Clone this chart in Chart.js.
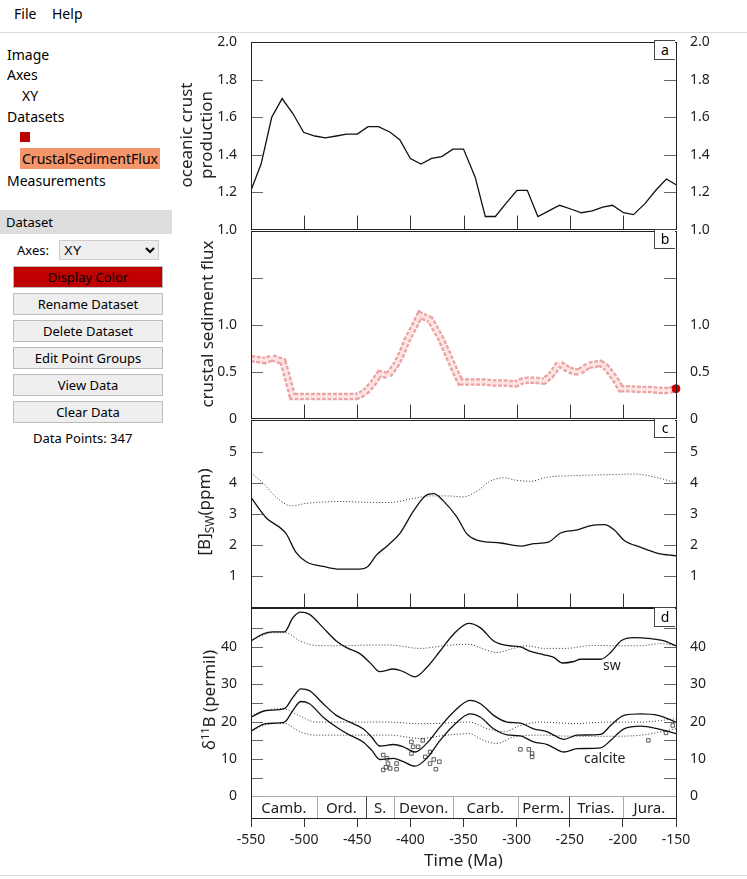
<!DOCTYPE html>
<html>
<head>
<meta charset="utf-8">
<script src="https://cdn.jsdelivr.net/npm/chart.js@4.4.0/dist/chart.umd.min.js"></script>
<style>
  body { margin: 0; width: 747px; height: 879px; position: relative; background: #fff; font-family: "Noto Sans", sans-serif; color: #000; overflow: hidden; }
  .abs { position: absolute; }
  .menu { top: 4px; font-size: 14px; }
  .tree { left: 7px; font-size: 14px; }
  .btn { position: absolute; left: 13px; width: 148px; height: 20px; border: 1px solid #bbb; background: #eee; font-size: 13px; text-align: center; line-height: 20px; }
  .ytitle { position: absolute; transform: translate(-50%, -50%) rotate(-90deg); white-space: nowrap; font-size: 17px; text-align: center; line-height: 20px; color: #222; }
  .letter { position: absolute; width: 20px; height: 18px; border: 1px solid #444; border-right: none; background: #fff; font-size: 14px; text-align: center; line-height: 17px; }
  .panel { position: absolute; left: 175px; width: 572px; }
</style>
</head>
<body>
<div class="abs menu" style="left:14px">File</div>
<div class="abs menu" style="left:52px">Help</div>
<div class="abs" style="left:0;top:32px;width:747px;border-top:1px solid #ddd"></div>

<div class="abs tree" style="top:45px">Image</div>
<div class="abs tree" style="top:65px">Axes</div>
<div class="abs tree" style="top:86px;left:22px">XY</div>
<div class="abs tree" style="top:107px">Datasets</div>
<div class="abs" style="left:20px;top:132px;width:10px;height:10px;background:#c00000"></div>
<div class="abs" style="left:20px;top:148px;width:140px;height:21px;background:#f4956a;font-size:14px;line-height:21px;text-align:center">CrustalSedimentFlux</div>
<div class="abs tree" style="top:171px">Measurements</div>

<div class="abs" style="left:0;top:210px;width:172px;height:24px;background:#ddd;font-size:13px;line-height:24px;padding-left:6px;box-sizing:border-box">Dataset</div>
<div class="abs" style="left:17px;top:241px;font-size:13px">Axes:</div>
<select class="abs" style="left:59px;top:240px;width:100px;height:20px;font-size:13px;border:1px solid #ccc;background:#eee"><option>XY</option></select>
<div class="btn" style="top:266px;background:#c00000;color:#000">Display Color</div>
<div class="btn" style="top:293px">Rename Dataset</div>
<div class="btn" style="top:320px">Delete Dataset</div>
<div class="btn" style="top:347px">Edit Point Groups</div>
<div class="btn" style="top:374px">View Data</div>
<div class="btn" style="top:401px">Clear Data</div>
<div class="abs" style="left:33px;top:429px;font-size:13px">Data Points: 347</div>

<div class="panel" style="top:28px;height:216px"><canvas id="ca"></canvas></div>
<div class="panel" style="top:217px;height:216px"><canvas id="cb"></canvas></div>
<div class="panel" style="top:406px;height:216px"><canvas id="cc"></canvas></div>
<div class="panel" style="top:594px;height:281px"><canvas id="cd"></canvas></div>

<div class="ytitle" style="left:196px;top:135px">oceanic crust<br>production</div>
<div class="ytitle" style="left:207px;top:324px">crustal sediment flux</div>
<div class="ytitle" style="left:207px;top:512px">[B]<sub style="font-size:12px">SW</sub>(ppm)</div>
<div class="ytitle" style="left:207px;top:700px">&delta;<sup style="font-size:11px">11</sup>B (permil)</div>

<div class="letter" style="left:654px;top:40px">a</div>
<div class="letter" style="left:654px;top:229px">b</div>
<div class="letter" style="left:654px;top:418px">c</div>
<div class="letter" style="left:654px;top:607px">d</div>

<div class="abs" style="left:603px;top:655px;font-size:14px;color:#222">sw</div>
<div class="abs" style="left:584px;top:748px;font-size:14px;color:#222">calcite</div>
<div class="abs" style="left:0;top:875px;width:747px;border-top:1px solid #ddd"></div>

<script>
// panel a: oceanic crust production
const aTime = [-550,-540.5,-530.5,-520.7,-510.6,-500.5,-490,-480,-469.7,-460,-450,-439.8,-430,-419,-410,-400,-390,-380,-370.5,-360,-350,-339,-329.5,-320,-310,-299.6,-290,-280,-269.7,-259.6,-249,-239,-228.7,-219,-209.8,-199.4,-190,-179,-169,-159,-150];
const aProd = [1.21,1.35,1.60,1.70,1.62,1.52,1.50,1.49,1.50,1.51,1.51,1.55,1.55,1.52,1.48,1.38,1.35,1.38,1.39,1.43,1.43,1.28,1.07,1.07,1.14,1.21,1.21,1.07,1.10,1.13,1.11,1.09,1.10,1.12,1.13,1.09,1.08,1.14,1.21,1.27,1.24];

const bTime = [-550,-543,-537,-530,-525,-520,-516,-511,-505,-498,-485,-470,-455,-451,-446,-441,-435,-429,-425,-421,-417,-413,-408,-403.5,-397,-391,-386,-381.5,-377,-372,-366,-360,-353,-347,-340.5,-330,-321.6,-311,-301,-295,-290,-282,-274.4,-268,-264,-260,-255,-250.8,-245,-241,-236,-232,-226,-221,-216,-211,-206,-202,-195,-183,-173,-164,-157,-150];
const bFlux = [0.64,0.63,0.62,0.65,0.63,0.61,0.45,0.235,0.235,0.235,0.235,0.235,0.235,0.235,0.26,0.30,0.38,0.48,0.47,0.46,0.52,0.585,0.70,0.83,0.97,1.11,1.08,1.06,0.97,0.87,0.72,0.56,0.39,0.39,0.39,0.39,0.38,0.38,0.37,0.40,0.41,0.41,0.40,0.46,0.52,0.59,0.55,0.52,0.50,0.50,0.54,0.57,0.58,0.59,0.55,0.48,0.40,0.32,0.32,0.31,0.31,0.30,0.30,0.32];

// panel c: [B]sw
const cTime = [-550,-536,-517,-508,-498,-482,-466.5,-447.6,-440,-432,-421,-410,-397,-386,-378,-369,-356,-347,-337.4,-315,-296,-284,-270,-258.6,-243,-230,-217.7,-208,-199,-183,-167,-150];
const cBsw = [3.53,2.89,2.37,1.79,1.47,1.32,1.23,1.23,1.32,1.68,2.0,2.37,3.1,3.58,3.65,3.42,2.89,2.37,2.16,2.07,1.97,2.05,2.1,2.39,2.49,2.63,2.66,2.49,2.16,1.93,1.74,1.66];
const cTimeDot = [-550,-539,-526,-512,-498,-466.5,-435,-419,-397,-381.5,-366,-350,-337,-325,-312,-300,-287,-271,-246,-214.5,-189,-167,-150];
const cBswDot = [4.32,4.0,3.53,3.26,3.34,3.4,3.37,3.37,3.5,3.58,3.58,3.55,3.74,4.05,4.16,4.08,4.05,4.18,4.23,4.26,4.28,4.16,4.0];

// panel d: d11B
const dSwTime = [-550,-539,-529.5,-518.5,-510.6,-503,-495,-482,-469.7,-460,-447.6,-438,-428.7,-416,-406.7,-395.6,-384.6,-372,-359.4,-345,-334,-321.6,-309,-296.4,-287,-274.4,-265,-257,-246,-240,-221,-211.5,-202,-189.3,-173.6,-161,-150];
const dSw = [41.6,43.4,44.0,44.0,47.8,49.3,48.7,45.1,41.6,39.8,38.2,35.8,33.4,34.1,33.4,32.0,34.5,38.9,43.4,46.3,45.1,41.6,40.4,40.0,38.8,37.9,37.2,35.7,36.1,36.7,36.7,38.5,41.6,42.5,42.2,41.6,40.3];
const dSwDotTime = [-550,-529.5,-517,-504,-488.6,-466.5,-435,-419,-391,-366,-345,-331,-318.5,-303,-290,-274,-255,-227,-205,-183,-164,-150];
const dSwDot = [41.8,43.8,43.8,41.6,40.4,40.3,40.5,40.5,39.6,40.4,40.7,39.4,38.5,39.6,40.3,39.6,39.6,40.4,40.3,40.3,40.9,40.3];
const dCalTime = [-550,-536,-518.5,-510.6,-503,-495,-482,-469.7,-457,-444.5,-436.5,-428.7,-416,-406.7,-395.6,-384.6,-372,-359.4,-343.7,-334,-321.6,-309,-296.4,-284,-271,-265,-255.5,-243,-221,-211.5,-199,-183,-167,-150];
const dCalHigh = [21.2,23.0,23.5,26.5,28.8,28.3,24.8,21.7,19.9,18.1,15.9,13.5,13.9,13.3,11.9,14.2,18.6,22.6,25.7,24.8,21.7,19.9,19.6,18.1,17.3,16.4,15.3,16.4,16.6,19.0,21.7,22.1,21.7,19.9];
const dCalLow = [17.5,19.5,19.9,23.0,25.4,24.8,21.2,18.6,16.4,14.6,12.4,9.9,10.2,9.3,8.1,10.2,15.0,19.0,22.1,21.2,18.1,16.5,16.2,14.6,13.9,13.0,11.9,12.8,13.0,15.0,18.1,18.8,18.1,16.8];
const dCalDotHiTime = [-550,-536,-520,-508,-488.6,-451,-419,-394,-381.5,-345,-327,-312,-296,-277,-246,-214.5,-183,-150];
const dCalDotHi = [21.7,23.0,23.5,22.1,19.9,19.9,19.9,19.5,19.5,19.9,18.1,17.3,19.0,19.9,19.5,19.9,19.9,20.8];
const dCalDotLoTime = [-550,-529.5,-518.5,-504,-488.6,-451,-419,-391,-366,-345,-331,-318.5,-303,-277,-246,-214.5,-183,-161,-150];
const dCalDotLo = [17.7,19.5,19.5,17.3,16.4,16.4,16.4,15.5,16.4,16.8,15.0,14.2,15.9,16.4,16.1,16.1,16.4,17.5,18.1];
const sampleTime = [-425.6,-422,-421,-425.6,-423,-419,-413,-413,-399,-397.4,-392.7,-388.4,-399,-386,-381.5,-381.5,-378,-372.7,-376,-296.4,-288.5,-285.4,-285.4,-176,-159.4,-153];
const sampleD11B = [11.1,10.2,8.8,7.1,7.8,7.5,8.8,7.3,14.6,13.3,13.3,15.0,11.5,10.6,11.9,8.8,9.9,9.3,7.3,12.6,12.6,10.6,11.5,15.0,17.0,19.0];

// period strip
const periodNames = ["Camb.","Ord.","S.","Devon.","Carb.","Perm.","Trias.","Jura."];
const periodEdges = [-550,-488,-442,-415,-360,-299,-251,-200,-150];

// ticks
const xTicks = [-550,-500,-450,-400,-350,-300,-250,-200,-150];
const aTicks = [1.0,1.2,1.4,1.6,1.8,2.0];
const bTicks = [0,0.5,1.0,1.5];
const bTickLabels = ["0","0.5","1.0",""];
const cTicks = [1,2,3,4,5];
const dTicks = [0,5,10,15,20,25,30,35,40,45];

const FONT = { family: "'Noto Sans', sans-serif", size: 14 };
const INK = "#222";

const pts = (xs, ys) => xs.map((x, i) => ({ x: x, y: ys[i] }));

const frame = {
  id: "frame",
  afterDraw(chart) {
    const { ctx, chartArea: a, scales } = chart;
    const o = chart.options.plugins.frame || {};
    ctx.save();
    ctx.strokeStyle = "#666";
    ctx.lineWidth = 1;
    // inner y ticks both sides
    scales.y.ticks.forEach(t => {
      const y = Math.round(scales.y.getPixelForValue(t.value)) + 0.5;
      if (y <= a.top + 1 || y >= a.bottom - 1) return;
      ctx.beginPath();
      ctx.moveTo(a.left, y); ctx.lineTo(a.left + 12, y);
      ctx.moveTo(a.right, y); ctx.lineTo(a.right - 12, y);
      ctx.stroke();
    });
    // x ticks pointing up from bottom edge
    if (o.xUp) {
      ctx.strokeStyle = "#333";
      xTicks.slice(1, -1).forEach(v => {
        const x = Math.round(scales.x.getPixelForValue(v)) + 0.5;
        ctx.beginPath(); ctx.moveTo(x, a.bottom); ctx.lineTo(x, a.bottom - 14); ctx.stroke();
      });
    }
    // period strip
    if (o.periods) {
      const y0 = scales.y.getPixelForValue(0);
      ctx.strokeStyle = "#aaa";
      ctx.beginPath(); ctx.moveTo(a.left, y0); ctx.lineTo(a.right, y0); ctx.stroke();
      ctx.fillStyle = INK;
      ctx.font = "15px 'Noto Sans', sans-serif";
      ctx.textAlign = "center"; ctx.textBaseline = "middle";
      periodNames.forEach((n, i) => {
        const x1 = scales.x.getPixelForValue(periodEdges[i]);
        const x2 = scales.x.getPixelForValue(periodEdges[i + 1]);
        if (i > 0) {
          ctx.strokeStyle = i === 2 || i === 6 ? "#444" : "#aaa";
          ctx.beginPath(); ctx.moveTo(Math.round(x1) + 0.5, y0); ctx.lineTo(Math.round(x1) + 0.5, a.bottom); ctx.stroke();
        }
        ctx.fillText(n, (x1 + x2) / 2, (y0 + a.bottom) / 2 + 1);
      });
    }
    ctx.strokeStyle = "#222";
    ctx.strokeRect(Math.round(a.left) + 0.5, Math.round(a.top) + 0.5, Math.round(a.right - a.left), Math.round(a.bottom - a.top));
    ctx.restore();
  }
};

function yAxis(pos, min, max, ticks, fmt) {
  return {
    type: "linear", position: pos, min: min, max: max,
    grid: { display: false }, border: { display: false },
    afterBuildTicks: s => { s.ticks = ticks.map(v => ({ value: v })); },
    afterFit: s => { s.width = pos === "left" ? 76 : 71; },
    ticks: { font: FONT, color: INK, padding: 6, callback: fmt }
  };
}

function makeChart(id, datasets, ymin, ymax, ticks, fmt, opts) {
  const last = opts.last;
  return new Chart(document.getElementById(id), {
    type: "line",
    data: { datasets: datasets },
    options: {
      responsive: true, maintainAspectRatio: false, animation: false,
      layout: { padding: { top: 10, bottom: last ? 0 : 10, left: 0, right: 0 } },
      plugins: { legend: { display: false }, tooltip: { enabled: false }, frame: opts },
      elements: { point: { radius: 0 } },
      scales: {
        x: {
          type: "linear", min: -550, max: -150, display: !!last,
          afterBuildTicks: s => { s.ticks = xTicks.map(v => ({ value: v })); },
          afterFit: s => { if (last) s.height = 57; },
          grid: { drawOnChartArea: false, drawTicks: true, tickLength: 9, color: "#333" },
          border: { display: false },
          ticks: { font: FONT, color: INK, padding: 5, maxRotation: 0 },
          title: { display: !!last, text: "Time (Ma)", font: { family: FONT.family, size: 17 }, color: INK, padding: { top: 3 } }
        },
        y: yAxis("left", ymin, ymax, ticks, fmt),
        y2: yAxis("right", ymin, ymax, ticks, fmt)
      }
    },
    plugins: [frame]
  });
}

const solid = (d, smooth) => ({ data: d, borderColor: "#111", borderWidth: 1.3, fill: false, tension: smooth ? 0.4 : 0, cubicInterpolationMode: smooth ? "monotone" : "default", yAxisID: "y" });
const dotted = d => ({ data: d, borderColor: "#333", borderWidth: 1, borderDash: [1, 2], fill: false, cubicInterpolationMode: "monotone", yAxisID: "y" });

makeChart("ca", [solid(pts(aTime, aProd), false)], 1.0, 2.0, aTicks, v => v.toFixed(1), { xUp: true });

const bPts = pts(bTime, bFlux);
makeChart("cb", [
  { data: [bPts[bPts.length - 1]], showLine: false, pointRadius: 4, backgroundColor: "#d00000", borderColor: "#d00000", clip: false, yAxisID: "y" },
  { data: bPts, borderColor: "rgba(255,230,230,0.95)", borderWidth: 3, fill: false, yAxisID: "y" },
  { data: bPts, borderColor: "rgba(215,70,70,0.5)", borderWidth: 7.5, borderDash: [4, 1.5], fill: false, yAxisID: "y" }
], 0, 2.0, bTicks, (v, i) => bTickLabels[i], { xUp: true });

makeChart("cc", [
  solid(pts(cTime, cBsw), true),
  dotted(pts(cTimeDot, cBswDot))
], 0, 6.0, cTicks, v => String(v), { xUp: true });

makeChart("cd", [
  solid(pts(dSwTime, dSw), true),
  dotted(pts(dSwDotTime, dSwDot)),
  solid(pts(dCalTime, dCalHigh), true),
  solid(pts(dCalTime, dCalLow), true),
  dotted(pts(dCalDotHiTime, dCalDotHi)),
  dotted(pts(dCalDotLoTime, dCalDotLo)),
  { data: pts(sampleTime, sampleD11B), showLine: false, pointStyle: "rect", pointRadius: 2.5, borderWidth: 0.8, borderColor: "#333", backgroundColor: "rgba(0,0,0,0)", yAxisID: "y" }
], -5.75, 50.3, dTicks, v => (v % 10 === 0 ? String(v) : ""), { periods: true, last: true });
</script>
</body>
</html>
